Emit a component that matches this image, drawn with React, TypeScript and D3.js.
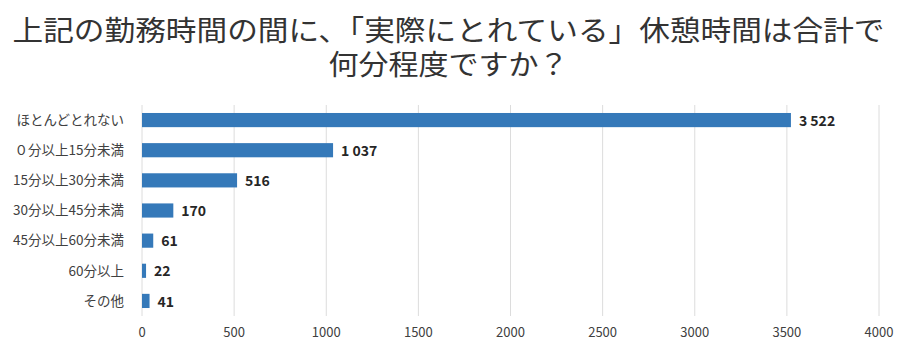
import React from 'react';
import * as d3 from 'd3';

const titleLines = ['上記の勤務時間の間に、「実際にとれている」休憩時間は合計で', '何分程度ですか？'];
const categories = ['ほとんどとれない', '０分以上15分未満', '15分以上30分未満', '30分以上45分未満', '45分以上60分未満', '60分以上', 'その他'];
const values = [3522, 1037, 516, 170, 61, 22, 41];
const xTicks = [0, 500, 1000, 1500, 2000, 2500, 3000, 3500, 4000];

const width = 897;
const height = 352;
const margin = { left: 142, right: 18, top: 105, bottom: 36 };
const font = '"Noto Sans CJK JP", "Noto Sans", sans-serif';

const fmt = (v: number) => d3.format(',')(v).replace(/,/g, ' ');

export default function App() {
  const xScale = d3.scaleLinear().domain([0, 4000]).range([margin.left, width - margin.right]);
  const yScale = d3.scaleBand<string>()
    .domain(categories)
    .range([margin.top, height - margin.bottom])
    .paddingInner(0.53)
    .paddingOuter(0.265);
  const bw = yScale.bandwidth();

  return (
    <svg width={width} height={height} style={{ position: 'absolute', left: 0, top: 0, background: '#fff' }}>
      <text x={width / 2} y={41} textAnchor="middle" fontFamily={font} fontSize={28} fill="#333"
        textLength={872} lengthAdjust="spacingAndGlyphs">{titleLines[0]}</text>
      <text x={width / 2} y={75} textAnchor="middle" fontFamily={font} fontSize={28} fill="#333"
        textLength={240} lengthAdjust="spacingAndGlyphs">{titleLines[1]}</text>
      {xTicks.map(t => (
        <g key={t}>
          <line x1={xScale(t)} x2={xScale(t)} y1={margin.top} y2={height - margin.bottom} stroke="#dcdcdc" strokeWidth={1} />
          <text x={xScale(t)} y={337} textAnchor="middle" fontFamily={font} fontSize={13} fill="#404040">{t}</text>
        </g>
      ))}
      {categories.map((c, i) => {
        const y = yScale(c)!;
        return (
          <g key={c}>
            <rect x={xScale(0)} y={y} width={xScale(values[i]) - xScale(0)} height={bw} fill="#3579b9" />
            <text x={124} y={y + bw / 2} dy="0.35em" textAnchor="end" fontFamily={font} fontSize={13.5} fill="#404040">{c}</text>
            <text x={xScale(values[i]) + 8} y={y + bw / 2} dy="0.4em" fontFamily={font} fontSize={14} fontWeight="bold" fill="#262626">{fmt(values[i])}</text>
          </g>
        );
      })}
    </svg>
  );
}
